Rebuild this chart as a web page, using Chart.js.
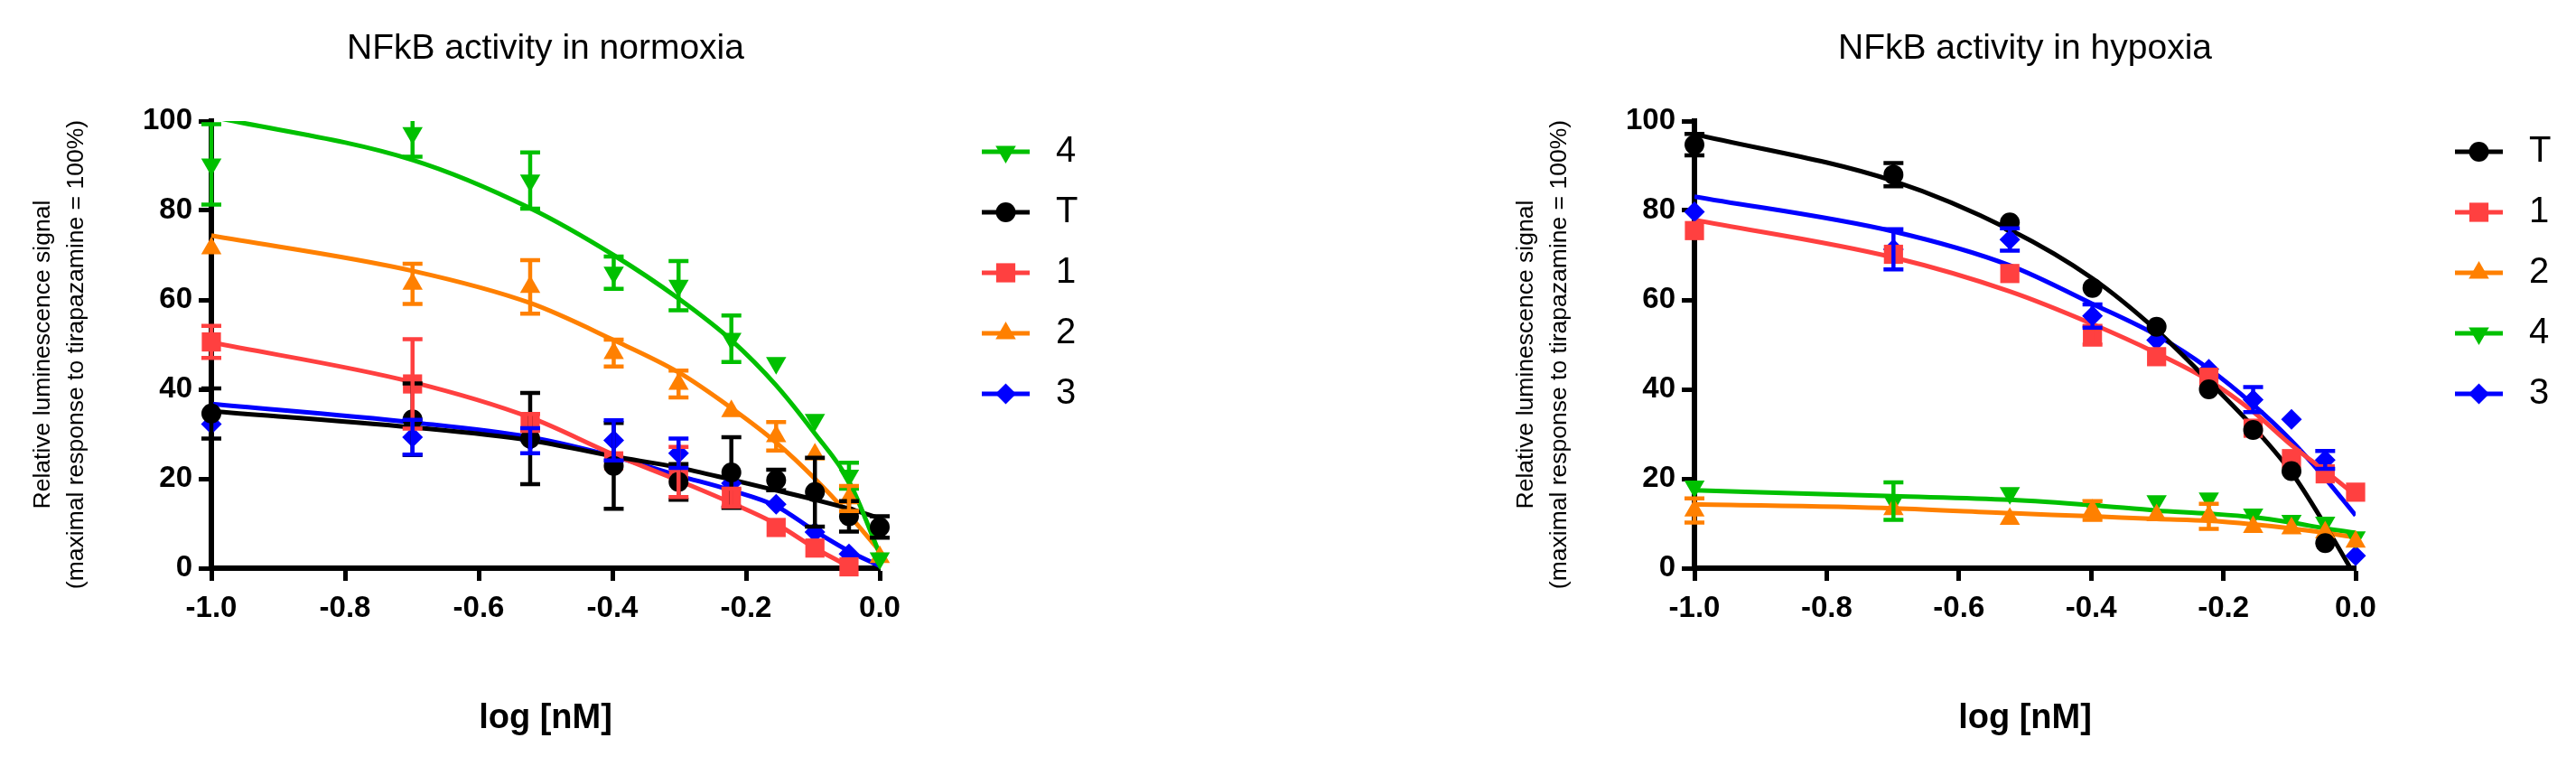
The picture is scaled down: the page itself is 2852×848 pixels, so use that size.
<!DOCTYPE html>
<html>
<head>
<meta charset="utf-8">
<title>NFkB activity</title>
<script src="https://cdn.jsdelivr.net/npm/chart.js@4.4.1/dist/chart.umd.min.js"></script>
<style>
  html, body { margin: 0; padding: 0; background: #fff; }
  #wrap { position: relative; width: 2852px; height: 848px; }
  canvas { position: absolute; top: 0; }
  #normoxia { left: 0; }
  #hypoxia { left: 1426px; }
</style>
</head>
<body>
<div id="wrap">
  <canvas id="normoxia" width="1426" height="848"></canvas>
  <canvas id="hypoxia" width="1426" height="848"></canvas>
</div>
<script>
// log [nM] of each dilution (0.1 ... 1.0 nM)
const logConc = [-1, -0.699, -0.523, -0.398, -0.301, -0.222, -0.155, -0.097, -0.046, 0];
const xTickLabels = ['-1.0', '-0.8', '-0.6', '-0.4', '-0.2', '0.0'];
const yTickLabels = ['0', '20', '40', '60', '80', '100'];

// normoxia - means, SEM and fitted curve
const normT = [34.6, 33.3, 29.0, 22.9, 19.3, 21.4, 19.7, 17.0, 11.6, 9.2];
const normTErr = [5.6, 8.0, 10.2, 9.6, 4.0, 7.9, 2.3, 7.7, 3.4, 2.4];
const normTFit = [35.1, 31.5, 28.6, 25.0, 22.5, 19.8, 17.4, 15.3, 13.3, 11.2];
const norm1 = [50.6, 41.2, 32.6, 24.0, 21.5, 15.8, 9.1, 4.5, 0.3, null];
const norm1Err = [3.6, 10.0, 1.9, 0, 5.6, 2.0, 0, 0, 0, 0];
const norm1Fit = [50.5, 41.6, 33.7, 25.4, 19.6, 14.6, 9.9, 4.5, 0.3, -4.0];
const norm2 = [71.5, 63.6, 62.9, 48.1, 41.2, 35.1, 29.5, 25.4, 15.6, 2.5];
const norm2Err = [0, 4.5, 6.0, 3.0, 3.0, 0, 3.2, 0, 2.8, 0];
const norm2Fit = [74.4, 66.5, 59.3, 51.0, 43.8, 35.8, 28.1, 20.0, 11.9, 3.8];
const norm3 = [32.2, 29.3, 28.5, 28.6, 25.7, 19.0, 14.3, 8.1, 3.2, null];
const norm3Err = [0, 3.9, 2.8, 4.5, 3.3, 0, 0, 0, 0, 0];
const norm3Fit = [36.7, 32.6, 29.3, 25.0, 20.7, 17.4, 13.9, 8.3, 3.8, 0.5];
const norm4 = [90.3, 97.3, 86.7, 66.1, 63.2, 51.3, 45.9, 33.2, 20.7, 2.2];
const norm4Err = [9.0, 5.3, 6.3, 3.6, 5.5, 5.2, 0, 0, 2.9, 0];
const norm4Fit = [101.0, 91.3, 80.5, 70.0, 60.3, 51.0, 40.9, 30.1, 19.4, 3.2];

// hypoxia
const hypT = [94.7, 88.0, 77.3, 62.7, 54.0, 40.0, 30.9, 21.7, 5.6, null];
const hypTErr = [2.4, 2.6, 0, 0, 0, 0, 0, 0, 0, 0];
const hypTFit = [97.1, 86.6, 75.7, 64.8, 53.2, 41.8, 31.6, 21.4, 9.6, -2.0];
const hyp1 = [75.5, 70.2, 65.9, 52.1, 47.3, 42.7, 31.3, 24.5, 21.1, 17.0];
const hyp1Err = [0, 0, 0, 2.1, 0, 0, 0, 0, 0, 0];
const hyp1Fit = [77.9, 69.5, 61.9, 54.6, 48.1, 42.0, 35.0, 27.5, 21.7, 16.3];
const hyp2 = [12.9, 13.2, 11.0, 12.9, 11.8, 11.6, 9.2, 8.9, 8.0, 5.9];
const hyp2Err = [2.7, 0, 0, 2.1, 0, 2.8, 0, 0, 0, 0];
const hyp2Fit = [14.3, 13.4, 12.3, 11.6, 11.0, 10.6, 9.8, 8.9, 7.9, 6.9];
const hyp3 = [79.7, 71.3, 73.5, 56.4, 51.0, 44.5, 37.7, 33.3, 24.2, 2.8];
const hyp3Err = [0, 4.5, 2.5, 2.6, 0, 0, 2.8, 0, 2.0, 0];
const hyp3Fit = [83.1, 75.3, 67.7, 59.1, 52.1, 44.6, 36.6, 28.5, 20.1, 11.8];
const hyp4 = [18.3, 15.0, 16.8, 14.0, 15.0, 15.6, 12.0, 10.6, 10.2, 6.9];
const hyp4Err = [0, 4.2, 0, 0, 0, 0, 0, 0, 0, 0];
const hyp4Fit = [17.4, 16.1, 15.3, 14.1, 12.9, 12.2, 11.4, 10.2, 8.9, 7.9];

Chart.defaults.font.family = 'Arial, "Liberation Sans", Helvetica, sans-serif';
Chart.defaults.color = '#000';

// marker look per compound (GraphPad style)
const looks = {
  'T': { color: '#000000', pointStyle: 'circle', radius: 11, rotation: 0 },
  '1': { color: '#FF4040', pointStyle: 'rect', radius: 15, rotation: 0 },
  '2': { color: '#FF8000', pointStyle: 'triangle', radius: 13, rotation: 0 },
  '3': { color: '#0000FF', pointStyle: 'rectRot', radius: 11.5, rotation: 0 },
  '4': { color: '#00C000', pointStyle: 'triangle', radius: 13, rotation: 180 }
};

function toPoints(values) {
  return logConc.map((x, i) => ({ x: x, y: values[i] }));
}

// markers first so they sit on top of the fitted curves
function buildDatasets(series) {
  const marks = series.map(s => {
    const look = looks[s.name];
    return {
      label: s.name,
      data: toPoints(s.mean),
      errors: s.err,
      showLine: false,
      clip: false,
      borderColor: look.color,
      backgroundColor: look.color,
      pointBackgroundColor: look.color,
      pointBorderWidth: 0,
      pointStyle: look.pointStyle,
      pointRadius: look.radius,
      pointHoverRadius: look.radius,
      pointRotation: look.rotation
    };
  });
  const fits = series.map(s => ({
    label: s.name + ' fit',
    data: toPoints(s.fit),
    showLine: true,
    borderColor: looks[s.name].color,
    borderWidth: 5,
    pointRadius: 0,
    pointHoverRadius: 0,
    cubicInterpolationMode: 'monotone',
    fill: false,
    clip: 0
  }));
  return marks.concat(fits);
}

// SEM bars drawn with the chart's own y scale
const errorBars = {
  id: 'errorBars',
  afterDatasetsDraw(chart) {
    const ctx = chart.ctx;
    const yScale = chart.scales.y;
    chart.data.datasets.forEach((ds, i) => {
      if (!ds.errors) return;
      const meta = chart.getDatasetMeta(i);
      ctx.save();
      ctx.strokeStyle = ds.borderColor;
      ctx.lineWidth = 4.5;
      meta.data.forEach((pt, j) => {
        const v = ds.data[j].y;
        const e = ds.errors[j];
        if (v == null || !e) return;
        const hiVal = v + e, loVal = v - e;
        const top = yScale.getPixelForValue(Math.min(hiVal, 100));
        const bottom = yScale.getPixelForValue(Math.max(loVal, 0));
        ctx.beginPath();
        ctx.moveTo(pt.x, top);
        ctx.lineTo(pt.x, bottom);
        if (hiVal <= 100) { ctx.moveTo(pt.x - 11, top); ctx.lineTo(pt.x + 11, top); }
        if (loVal >= 0) { ctx.moveTo(pt.x - 11, bottom); ctx.lineTo(pt.x + 11, bottom); }
        ctx.stroke();
      });
      ctx.restore();
    });
  }
};

// legend on the right: line sample with marker, then the name
const sideLegend = {
  id: 'sideLegend',
  afterDraw(chart, args, opts) {
    const ctx = chart.ctx;
    const marks = chart.data.datasets.filter(d => d.errors);
    ctx.save();
    marks.forEach((d, i) => {
      const yy = opts.top + i * opts.step;
      ctx.strokeStyle = d.borderColor;
      ctx.lineWidth = 5;
      ctx.beginPath();
      ctx.moveTo(opts.x, yy);
      ctx.lineTo(opts.x + 53, yy);
      ctx.stroke();
      ctx.fillStyle = d.pointBackgroundColor;
      Chart.helpers.drawPoint(ctx, {
        pointStyle: d.pointStyle, radius: d.pointRadius, rotation: d.pointRotation, borderWidth: 0
      }, opts.x + 26.5, yy);
      ctx.fillStyle = '#000';
      ctx.font = '40px Arial, "Liberation Sans", sans-serif';
      ctx.textAlign = 'left';
      ctx.textBaseline = 'middle';
      ctx.fillText(d.label, opts.x + 82, yy);
    });
    ctx.restore();
  }
};

Chart.register(errorBars, sideLegend);

// trailing spaces nudge the rotated axis title ~10px down, as in the original
const yTitle = ['Relative luminescence signal   ', '(maximal response to tirapazamine = 100%)   '];

function makeChart(canvasId, titleText, series, padLeft, padRight, legendX) {
  const axisLine = { display: true, color: '#000', width: 6 };
  const tickMarks = { display: true, drawOnChartArea: false, drawTicks: true, tickLength: 14, tickWidth: 5, tickColor: '#000' };
  return new Chart(document.getElementById(canvasId), {
    type: 'scatter',
    data: { datasets: buildDatasets(series) },
    options: {
      responsive: false,
      animation: false,
      events: [],
      layout: { padding: { left: padLeft, right: padRight, top: 0, bottom: 0 } },
      plugins: {
        legend: { display: false },
        tooltip: { enabled: false },
        title: {
          display: true,
          text: titleText,
          color: '#000',
          fullSize: false,
          font: { size: 39, weight: 'normal' },
          padding: { top: 31, bottom: 56.2 }
        },
        sideLegend: { x: legendX, top: 168, step: 67 }
      },
      scales: {
        x: {
          type: 'linear',
          min: -1,
          max: 0,
          border: axisLine,
          grid: tickMarks,
          ticks: {
            stepSize: 0.2,
            color: '#000',
            padding: 11,
            maxRotation: 0,
            autoSkip: false,
            font: { size: 33, weight: 'bold' },
            callback: (v, i) => xTickLabels[i]
          },
          title: {
            display: true,
            text: 'log [nM]',
            color: '#000',
            font: { size: 38, weight: 'bold' },
            padding: { top: 0, bottom: 30 }
          },
          afterFit: scale => { scale.height = 219; }
        },
        y: {
          type: 'linear',
          min: 0,
          max: 100,
          border: axisLine,
          grid: tickMarks,
          ticks: {
            stepSize: 20,
            color: '#000',
            padding: 7,
            font: { size: 33, weight: 'bold' },
            callback: (v, i) => yTickLabels[i]
          },
          title: {
            display: true,
            text: yTitle,
            color: '#000',
            font: { size: 26.5, weight: 'normal', lineHeight: 1.396 },
            padding: { top: 29, bottom: 0 }
          },
          afterFit: scale => { scale.width = 234; }
        }
      }
    }
  });
}

makeChart('normoxia', 'NFkB activity in normoxia', [
  { name: '4', mean: norm4, err: norm4Err, fit: norm4Fit },
  { name: 'T', mean: normT, err: normTErr, fit: normTFit },
  { name: '1', mean: norm1, err: norm1Err, fit: norm1Fit },
  { name: '2', mean: norm2, err: norm2Err, fit: norm2Fit },
  { name: '3', mean: norm3, err: norm3Err, fit: norm3Fit }
], 0, 452, 1087);

makeChart('hypoxia', 'NFkB activity in hypoxia', [
  { name: 'T', mean: hypT, err: hypTErr, fit: hypTFit },
  { name: '1', mean: hyp1, err: hyp1Err, fit: hyp1Fit },
  { name: '2', mean: hyp2, err: hyp2Err, fit: hyp2Fit },
  { name: '4', mean: hyp4, err: hyp4Err, fit: hyp4Fit },
  { name: '3', mean: hyp3, err: hyp3Err, fit: hyp3Fit }
], 216, 244, 1292);
</script>
</body>
</html>
